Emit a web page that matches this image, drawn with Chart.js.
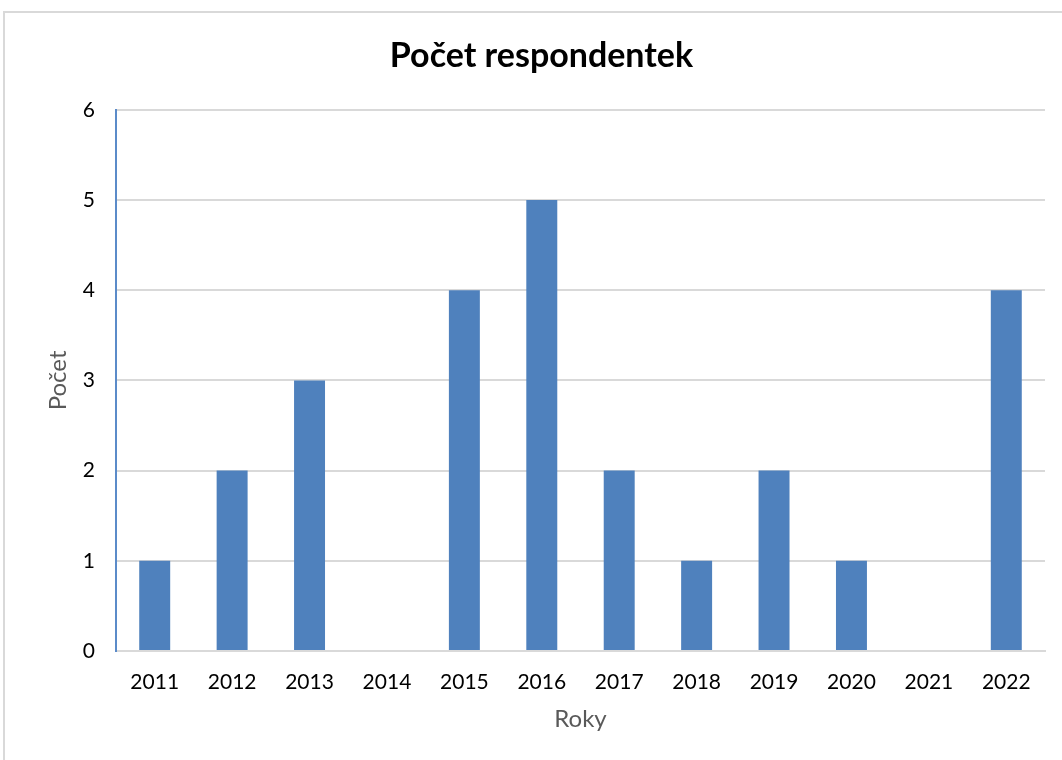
<!DOCTYPE html>
<html>
<head>
<meta charset="utf-8">
<script src="https://cdn.jsdelivr.net/npm/chart.js@4/dist/chart.umd.min.js"></script>
<style>
  html, body { margin: 0; padding: 0; background: #fff; }
  #frame {
    position: absolute; left: 3px; top: 11px;
    width: 1070px; height: 760px;
    border: 2px solid #d9d9d9;
    box-sizing: border-box;
  }
  #wrap { position: absolute; left: 0; top: 0; width: 1062px; height: 760px; }
</style>
</head>
<body>
<div id="frame"></div>
<div id="wrap"><canvas id="respChart"></canvas></div>
<script>
// Počet respondentek podle roku
const years = ['2011', '2012', '2013', '2014', '2015', '2016', '2017', '2018', '2019', '2020', '2021', '2022'];
const counts = [1, 2, 3, 0, 4, 5, 2, 1, 2, 1, 0, 4];
const yTicks = [0, 1, 2, 3, 4, 5, 6];

const FONT = 'Lato, "Open Sans", sans-serif';

// posune nadpis o kousek doprava, ať je nad středem celého rámečku
const titleShift = {
    id: 'titleShift',
    afterLayout(chart) {
        const t = chart.titleBlock;
        if (t) { t.left += 19; t.right += 19; }
    }
};

const ctx = document.getElementById('respChart');
const myChart = new Chart(ctx, {
    type: 'bar',
    data: {
        labels: years,
        datasets: [{
            label: 'Počet',
            data: counts,
            backgroundColor: '#4f81bd',
            borderWidth: 0,
            barPercentage: 0.4,
            categoryPercentage: 1.0
        }]
    },
    plugins: [titleShift],
    options: {
        responsive: true,
        maintainAspectRatio: false,
        animation: false,
        layout: { padding: { left: 0, right: 17, top: 0, bottom: 0 } },
        plugins: {
            legend: { display: false },
            tooltip: { enabled: false },
            title: {
                display: true,
                text: 'Počet respondentek',
                color: '#000',
                font: { family: FONT, size: 34, weight: 'bold' },
                padding: { top: 36, bottom: 33 }
            }
        },
        scales: {
            x: {
                grid: { display: false, drawTicks: false },
                border: { display: true, color: '#d9d9d9', width: 2 },
                ticks: {
                    color: '#000',
                    font: { family: FONT, size: 21 },
                    padding: 19,
                    maxRotation: 0
                },
                title: {
                    display: true,
                    text: 'Roky',
                    color: '#595959',
                    font: { family: FONT, size: 24 },
                    padding: { top: 0, bottom: 26 }
                },
                afterFit: (scale) => { scale.height = 109; }
            },
            y: {
                min: 0,
                max: 6,
                afterBuildTicks: (scale) => { scale.ticks = yTicks.map(v => ({ value: v })); },
                grid: { color: '#d9d9d9', lineWidth: 2, drawTicks: false },
                border: { display: true, color: '#5b8bc9', width: 2 },
                ticks: {
                    color: '#000',
                    font: { family: FONT, size: 21 },
                    padding: 21
                },
                title: {
                    display: true,
                    text: 'Počet',
                    color: '#595959',
                    font: { family: FONT, size: 24 },
                    padding: { top: 44, bottom: 0 }
                },
                afterFit: (scale) => { scale.width = 116; }
            }
        }
    }
});
</script>
</body>
</html>
